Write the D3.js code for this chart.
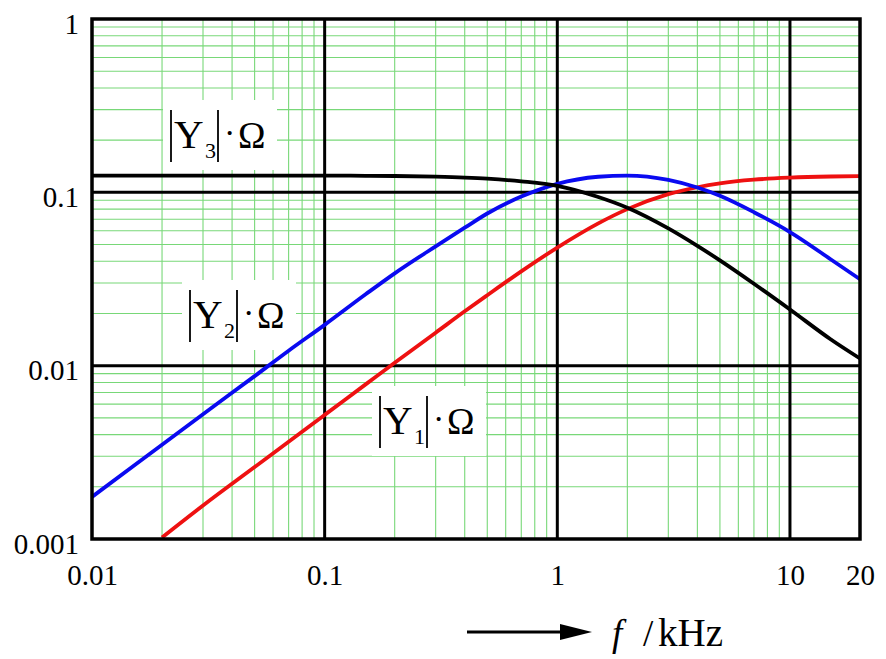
<!DOCTYPE html>
<html>
<head>
<meta charset="utf-8">
<script src="https://cdn.jsdelivr.net/npm/d3@7/dist/d3.min.js"></script>
<style>
  html, body { margin: 0; padding: 0; background: #fff; }
  svg { display: block; }
  text { font-family: "Liberation Serif", "DejaVu Serif", serif; fill: #000; }
</style>
</head>
<body>
<svg id="chart" width="886" height="659"></svg>
<script>
// ---- data ----
const freqKHz = [0.01, 0.02, 0.03, 0.05, 0.07, 0.1, 0.15, 0.2, 0.3, 0.4, 0.5, 0.7, 1, 1.5, 2, 3, 4, 5, 7, 10, 15, 20];
const y1Values = [null, 0.00102, 0.00156, 0.0026, 0.00364, 0.0052, 0.0078, 0.0104, 0.0155, 0.0206, 0.0255, 0.035, 0.048, 0.0662, 0.08, 0.0976, 0.107, 0.1127, 0.1183, 0.1215, 0.1234, 0.1241];
const y2Values = [0.00175, 0.0035, 0.00525, 0.0087, 0.0122, 0.0172, 0.0258, 0.0341, 0.0488, 0.0625, 0.0755, 0.0945, 0.112, 0.123, 0.125, 0.118, 0.1066, 0.0955, 0.0768, 0.059, 0.041, 0.0315];
const y3Values = [0.125, 0.125, 0.125, 0.125, 0.125, 0.125, 0.1245, 0.1242, 0.1231, 0.1217, 0.12, 0.1157, 0.109, 0.094, 0.0815, 0.0619, 0.0491, 0.0405, 0.0297, 0.0211, 0.01416, 0.011];
const xTickValues = [0.01, 0.1, 1, 10, 20];
const xTickLabels = ["0.01", "0.1", "1", "10", "20"];
const yTickValues = [0.001, 0.01, 0.1, 1];
const yTickLabels = ["0.001", "0.01", "0.1", "1"];
const seriesNames = ["1", "2", "3"];
const seriesColors = ["#ee1111", "#0a0af0", "#000000"];

// ---- layout ----
const svg = d3.select("#chart");
const L = 92, R = 860, T = 19, B = 539;
const x = d3.scaleLog().domain([0.01, 20]).range([L, R]);
const y = d3.scaleLog().domain([0.001, 1]).range([B, T]);

const gGrid = svg.append("g");
const green = "#78d878";
gGrid.selectAll("line.vx").data(x.ticks()).join("line")
  .attr("x1", d => x(d)).attr("x2", d => x(d)).attr("y1", T).attr("y2", B)
  .attr("stroke", green).attr("stroke-width", 1.1);
gGrid.selectAll("line.hy").data(y.ticks()).join("line")
  .attr("x1", L).attr("x2", R).attr("y1", d => y(d)).attr("y2", d => y(d))
  .attr("stroke", green).attr("stroke-width", 1.1);

// white label boxes
const labels = [
  {sub: "3", bx: 171, by: 148},
  {sub: "2", bx: 190, by: 328},
  {sub: "1", bx: 380, by: 434}
];
svg.append("g").selectAll("rect").data(labels).join("rect")
  .attr("x", d => d.bx - 8).attr("y", d => d.by - 48)
  .attr("width", 114).attr("height", 70).attr("fill", "#fff");

// major black grid
const gMajor = svg.append("g");
gMajor.selectAll("line.mx").data([0.1, 1, 10]).join("line")
  .attr("x1", d => x(d)).attr("x2", d => x(d)).attr("y1", T).attr("y2", B)
  .attr("stroke", "#000").attr("stroke-width", 3);
gMajor.selectAll("line.my").data([0.01, 0.1]).join("line")
  .attr("x1", L).attr("x2", R).attr("y1", d => y(d)).attr("y2", d => y(d))
  .attr("stroke", "#000").attr("stroke-width", 3);

// curves
const seriesData = [y1Values, y2Values, y3Values];
const line = d3.line()
  .defined(d => d[1] != null)
  .x(d => x(d[0])).y(d => y(d[1]))
  .curve(d3.curveMonotoneX);
const gCurves = svg.append("g");
seriesData.forEach((vals, i) => {
  const pts = freqKHz.map((f, j) => [f, vals[j]]);
  gCurves.append("path").attr("d", line(pts))
    .attr("fill", "none").attr("stroke", seriesColors[i])
    .attr("stroke-width", 3.8).attr("stroke-linejoin", "round");
});

// frame
svg.append("rect").attr("x", L).attr("y", T).attr("width", R - L).attr("height", B - T)
  .attr("fill", "none").attr("stroke", "#000").attr("stroke-width", 3.5);

// axes (labels only)
const xAxis = d3.axisBottom(x).tickValues(xTickValues)
  .tickFormat((d, i) => xTickLabels[i]).tickSize(0).tickPadding(0);
const gx = svg.append("g").attr("transform", `translate(0,${B})`).call(xAxis);
gx.select(".domain").remove();
gx.selectAll("text").attr("font-family", "Liberation Serif").attr("font-size", 29)
  .attr("fill", "#000").attr("dy", 0).attr("y", 46);

const yAxis = d3.axisLeft(y).tickValues(yTickValues)
  .tickFormat((d, i) => yTickLabels[i]).tickSize(0).tickPadding(0);
const gy = svg.append("g").attr("transform", `translate(${L - 13},0)`).call(yAxis);
gy.select(".domain").remove();
gy.selectAll("text").attr("font-family", "Liberation Serif").attr("font-size", 29)
  .attr("fill", "#000").attr("dy", 14).attr("x", 0);

// series labels |Yn|·Ω
const gLab = svg.append("g");
labels.forEach(l => {
  const g = gLab.append("g");
  g.append("line").attr("x1", l.bx).attr("x2", l.bx).attr("y1", l.by - 38).attr("y2", l.by + 14)
    .attr("stroke", "#000").attr("stroke-width", 1.8);
  g.append("line").attr("x1", l.bx + 47).attr("x2", l.bx + 47).attr("y1", l.by - 38).attr("y2", l.by + 14)
    .attr("stroke", "#000").attr("stroke-width", 1.8);
  g.append("text").attr("x", l.bx + 3).attr("y", l.by).attr("font-size", 41).text("Y");
  g.append("text").attr("x", l.bx + 34).attr("y", l.by + 10).attr("font-size", 22).text(l.sub);
  g.append("text").attr("x", l.bx + 53).attr("y", l.by - 4).attr("font-size", 34).text("·");
  g.append("text").attr("x", l.bx + 67).attr("y", l.by).attr("font-size", 37).text("Ω");
});

// x-axis title with arrow
svg.append("line").attr("x1", 467).attr("x2", 565).attr("y1", 632).attr("y2", 632)
  .attr("stroke", "#000").attr("stroke-width", 3);
svg.append("path").attr("d", "M560,624 L592,632 L560,640 Z").attr("fill", "#000");
const title = svg.append("text").attr("x", 612).attr("y", 646).attr("font-size", 37);
title.append("tspan").attr("font-style", "italic").text("f");
title.append("tspan").attr("x", 643).text("/");
title.append("tspan").attr("x", 658).attr("font-size", 39).text("kHz");
</script>
</body>
</html>
